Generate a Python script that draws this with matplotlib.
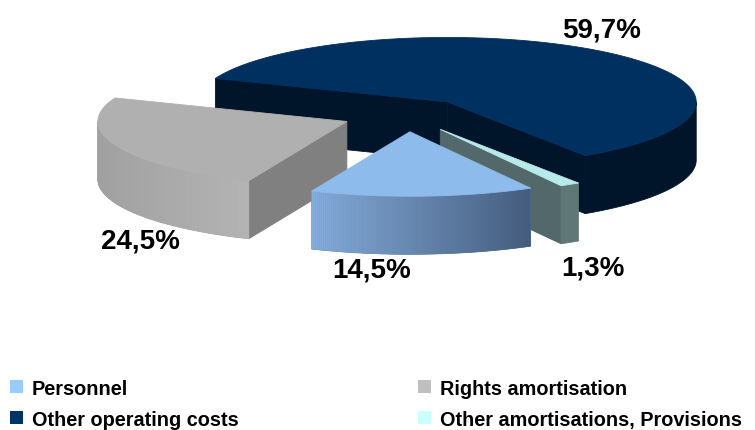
import numpy as np
import matplotlib
matplotlib.use("Agg")
import matplotlib.pyplot as plt
from matplotlib.patches import Polygon, Patch

# ---- data ----
categories = ["Personnel", "Rights amortisation", "Other operating costs",
              "Other amortisations, Provisions"]
shares = [14.5, 24.5, 59.7, 1.3]
value_labels = ["14,5%", "24,5%", "59,7%", "1,3%"]

# ---- styles ----
legend_colors = ["#99CCFF", "#C0C0C0", "#003366", "#CCFFFF"]
top_colors = ["#8DBBEB", "#B0B0B0", "#003060", "#B8EAEA"]
front_left = ["#84ACDC", "#A0A0A0", "#00152A", "#5F7874"]
front_right = ["#445C7C", "#B4B4B4", "#00152A", "#5F7874"]
cut_colors = ["#4A6384", "#808080", "#00152A", "#52686A"]

# ---- 3D pie geometry (pixel space) ----
CX, CY = 406.6, 116.0      # pie centre
RX, RY = 249.0, 64.5       # ellipse radii
H = 58.0                   # thickness
EXPLODE = 0.26
START = -61.0              # angle where first slice starts (clockwise)

fig = plt.figure(figsize=(7.55, 4.31), dpi=100)
ax = fig.add_axes([0, 0, 1, 1])
ax.set_xlim(0, 755)
ax.set_ylim(431, 0)
ax.axis("off")


def pt(cx, cy, ang, z=0.0):
    r = np.radians(ang)
    return (cx + RX * np.cos(r), cy - RY * np.sin(r) + z)


def mix(c1, c2, t):
    a = np.array(matplotlib.colors.to_rgb(c1))
    b = np.array(matplotlib.colors.to_rgb(c2))
    return tuple(a + (b - a) * t)


def poly(points, color, zorder, aa=True, lw=0.6):
    ax.add_patch(Polygon(points, closed=True, facecolor=color,
                         edgecolor=color, linewidth=lw, zorder=zorder,
                         antialiased=aa))


# slice angular extents (counter-clockwise a < b)
slices = []
theta = START
for i, s in enumerate(shares):
    span = 360.0 * s / 100.0
    b = theta
    a = theta - span
    slices.append((i, a, b))
    theta = a

# centres after explosion
geo = []
for i, a, b in slices:
    m = np.radians((a + b) / 2)
    cx = CX + EXPLODE * RX * np.cos(m)
    cy = CY - EXPLODE * RY * np.sin(m)
    geo.append((i, a, b, cx, cy))

order = sorted(geo, key=lambda g: g[4])
for depth, (i, a, b, cx, cy) in enumerate(order):
    z0 = depth * 10
    # radial cut faces
    if np.cos(np.radians(a)) > 0:
        p, q = (cx, cy), pt(cx, cy, a)
        poly([p, q, (q[0], q[1] + H), (p[0], p[1] + H)], cut_colors[i], z0 + 1)
    if np.cos(np.radians(b)) < 0:
        p, q = (cx, cy), pt(cx, cy, b)
        poly([p, q, (q[0], q[1] + H), (p[0], p[1] + H)], cut_colors[i], z0 + 1)
    # outer wall (visible part = front half)
    ts = np.linspace(a, b, 400)
    vis = ts[np.sin(np.radians(ts)) <= 0]
    if len(vis) > 1:
        top = [pt(cx, cy, t) for t in vis]
        bot = [pt(cx, cy, t, H) for t in vis[::-1]]
        base = mix(front_left[i], front_right[i], 0.5)
        poly(top + bot, base, z0 + 2)
        if front_left[i] != front_right[i]:
            xs0 = min(p[0] for p in top)
            xs1 = max(p[0] for p in top)
            n = max(2, int((xs1 - xs0) / 2))
            seg = np.linspace(vis[0], vis[-1], n)
            for t0, t1 in zip(seg[:-1], seg[1:]):
                p0, p1 = pt(cx, cy, t0), pt(cx, cy, t1)
                xm = (p0[0] + p1[0]) / 2
                frac = np.clip((xm - xs0) / max(xs1 - xs0, 1), 0, 1)
                col = mix(front_left[i], front_right[i], frac)
                poly([p0, p1, (p1[0], p1[1] + H), (p0[0], p0[1] + H)], col,
                     z0 + 2.5, lw=0.3)
    # top
    arc = [pt(cx, cy, t) for t in np.linspace(a, b, 200)]
    poly([(cx, cy)] + arc, top_colors[i], z0 + 3)

# value labels
label_pos = {0: (372, 271), 1: (140, 242), 2: (602, 30), 3: (593, 269)}
for i, lab in enumerate(value_labels):
    x, y = label_pos[i]
    ax.text(x, y, lab, ha="center", va="center", fontsize=20,
            fontweight="bold", family="Liberation Sans", color="black",
            zorder=100)

# legend (column-major order gives row layout of the reference)
handles = [Patch(facecolor=c, edgecolor="none") for c in legend_colors]
idx = [0, 2, 1, 3]
fig.legend([handles[k] for k in idx], [categories[k] for k in idx],
           ncol=2, loc="upper left", bbox_to_anchor=(0.008, 0.128),
           frameon=False, prop={"family": "Liberation Sans", "weight": "bold",
                                "size": 14.3},
           handlelength=0.65, handleheight=0.65, handletextpad=0.45,
           columnspacing=9.05, labelspacing=0.6, borderpad=0.2,
           borderaxespad=0.0)

fig.savefig("out.png", dpi=100)
